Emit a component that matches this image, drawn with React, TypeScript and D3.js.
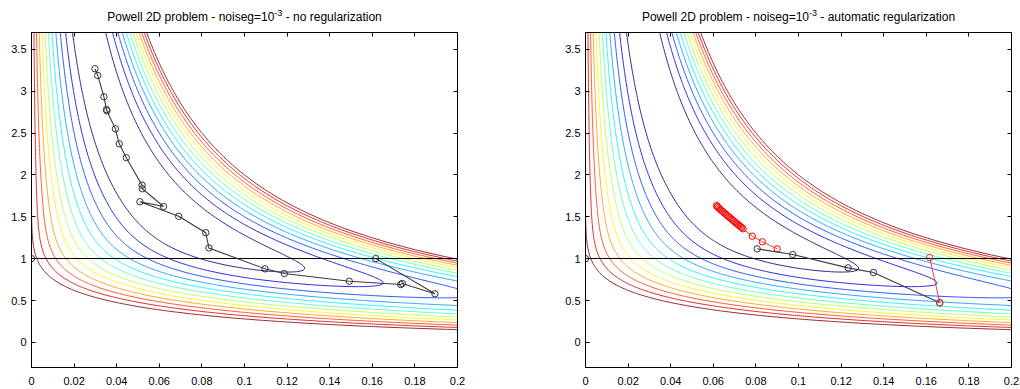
import React, { useMemo } from 'react';
import * as d3 from 'd3';

// ---------- data ----------
const X_TICKS = [0, 0.02, 0.04, 0.06, 0.08, 0.1, 0.12, 0.14, 0.16, 0.18, 0.2];
const X_TICK_LABELS = ['0', '0.02', '0.04', '0.06', '0.08', '0.1', '0.12', '0.14', '0.16', '0.18', '0.2'];
const Y_TICKS = [0, 0.5, 1, 1.5, 2, 2.5, 3, 3.5];
const Y_TICK_LABELS = ['0', '0.5', '1', '1.5', '2', '2.5', '3', '3.5'];

const CONTOUR_LEVELS = [0.0833, 0.1667, 0.25, 0.3333, 0.4167, 0.5, 0.5833, 0.6667, 0.75, 0.8333, 0.9167, 1.0];

const TITLE_LEFT = ['Powell 2D problem - noiseg=10', '-3', ' - no regularization'];
const TITLE_RIGHT = ['Powell 2D problem - noiseg=10', '-3', ' - automatic regularization'];

// left panel: first step along y = 1 (runs out of the axes), then the iterates
const LEFT_START_X = [0, 0.3];
const LEFT_START_Y = [1.0, 1.0];
const LEFT_PATH_X = [0.1616, 0.1894, 0.1741, 0.1733, 0.1492, 0.1187, 0.1096, 0.0833, 0.0818, 0.0691, 0.0509, 0.0620, 0.0520, 0.0519, 0.0445, 0.0412, 0.0394, 0.0354, 0.0352, 0.0340, 0.0311, 0.0298];
const LEFT_PATH_Y = [1.0, 0.58, 0.703, 0.691, 0.73, 0.822, 0.878, 1.127, 1.31, 1.505, 1.679, 1.622, 1.834, 1.877, 2.205, 2.371, 2.55, 2.765, 2.78, 2.932, 3.187, 3.267];

// right panel: iterates (automatic regularization)
const RIGHT_BLACK_A_X = [0, 0.3];
const RIGHT_BLACK_A_Y = [1.0, 1.0];
const RIGHT_RED_A_X = [0.1616, 0.1663];
const RIGHT_RED_A_Y = [1.013, 0.473];
const RIGHT_BLACK_B_X = [0.1663, 0.1352, 0.1233, 0.0973, 0.0806];
const RIGHT_BLACK_B_Y = [0.473, 0.834, 0.890, 1.049, 1.117];
const RIGHT_RED_B_X = [0.0900, 0.0830, 0.0783, 0.0740, 0.0733, 0.0727, 0.0720, 0.0714, 0.0707, 0.0700, 0.0693, 0.0686, 0.0679, 0.0672, 0.0665, 0.0658, 0.0651, 0.0644, 0.0637, 0.0630, 0.0624, 0.0619, 0.0615];
const RIGHT_RED_B_Y = [1.117, 1.201, 1.268, 1.356, 1.371, 1.385, 1.398, 1.412, 1.425, 1.440, 1.456, 1.470, 1.486, 1.500, 1.516, 1.531, 1.547, 1.563, 1.578, 1.594, 1.609, 1.622, 1.634];

// ---------- objective (scaled Powell-type valley, fitted to the picture) ----------
const objective = (x: number, y: number) =>
  (10 * x * y - 1) ** 2 + (0.8 * Math.exp(-1.28 * y * y) - 0.3 * x) ** 2;

const clamp = (v: number) => Math.max(0, Math.min(1, v));
const jet = (t: number) => {
  const r = clamp(1.5 - Math.abs(4 * t - 3));
  const g = clamp(1.5 - Math.abs(4 * t - 2));
  const b = clamp(1.5 - Math.abs(4 * t - 1));
  return d3.rgb(r * 255, g * 255, b * 255).formatHex();
};

const GX0 = -0.01, GX1 = 0.21, GY0 = -0.4, GY1 = 3.8, NX = 241, NY = 261;
const DXG = (GX1 - GX0) / (NX - 1);
const DYG = (GY1 - GY0) / (NY - 1);

function computeContours() {
  const values: number[] = new Array(NX * NY);
  for (let j = 0; j < NY; j++) {
    const yv = GY0 + j * DYG;
    for (let i = 0; i < NX; i++) {
      const xv = GX0 + i * DXG;
      values[j * NX + i] = objective(xv, yv);
    }
  }
  return d3.contours().size([NX, NY]).thresholds(CONTOUR_LEVELS)(values);
}

const AX_W = 426;
const AX_TOP = 32.5;
const AX_BOTTOM = 367.5;
const FONT = '"Liberation Sans", Arial, Helvetica, sans-serif';

type Series = { xs: number[]; ys: number[]; line: string; marker: string; lw: number; crisp?: boolean };

function Panel({ left, title, series, id, contours }: { left: number; title: string[]; series: Series[]; id: string; contours: any[] }) {
  const x = d3.scaleLinear().domain([0, 0.2]).range([left, left + AX_W]);
  const y = d3.scaleLinear().domain([-0.3, 3.7]).range([AX_BOTTOM, AX_TOP]);
  const right = left + AX_W;

  const contourPaths = contours.map((c: any, k: number) => {
    let d = '';
    for (const poly of c.coordinates) {
      for (const ring of poly) {
        ring.forEach((p: number[], idx: number) => {
          const px = x(GX0 + (p[0] - 0.5) * DXG);
          const py = y(GY0 + (p[1] - 0.5) * DYG);
          d += (idx === 0 ? 'M' : 'L') + px.toFixed(2) + ',' + py.toFixed(2);
        });
      }
    }
    return { d, color: jet(k / (CONTOUR_LEVELS.length - 1)) };
  });

  const lineGen = d3.line<[number, number]>().x((p) => x(p[0])).y((p) => y(p[1]));

  return (
    <g>
      <defs>
        <clipPath id={id}>
          <rect x={left} y={AX_TOP} width={AX_W} height={AX_BOTTOM - AX_TOP} />
        </clipPath>
      </defs>
      <rect x={left} y={AX_TOP} width={AX_W} height={AX_BOTTOM - AX_TOP} fill="#fff" />
      <g clipPath={`url(#${id})`}>
        {contourPaths.map((c, k) => (
          <path key={k} d={c.d} fill="none" stroke={c.color} strokeWidth={1} strokeOpacity={0.85} />
        ))}
        {series.map((s, k) => {
          const pts = s.xs.map((v, i) => [v, s.ys[i]] as [number, number]);
          return (
            <g key={k}>
              <path d={lineGen(pts) || ''} fill="none" stroke={s.line} strokeWidth={s.lw} shapeRendering={s.crisp ? 'crispEdges' : undefined} />
              {pts.map((p, i) => (
                <circle key={i} cx={x(p[0])} cy={y(p[1])} r={3.2} fill="none" stroke={s.marker} strokeWidth={1} />
              ))}
            </g>
          );
        })}
      </g>
      <rect x={left} y={AX_TOP} width={AX_W} height={AX_BOTTOM - AX_TOP} fill="none" stroke="#000" strokeWidth={1} />
      {X_TICKS.map((t, i) => {
        const px = Math.round(x(t) - 0.5) + 0.5;
        return (
          <g key={'x' + i}>
            <line x1={px} x2={px} y1={AX_BOTTOM} y2={AX_BOTTOM - 4} stroke="#000" />
            <line x1={px} x2={px} y1={AX_TOP} y2={AX_TOP + 4} stroke="#000" />
            <text x={x(t)} y={385} textAnchor="middle" fontSize={11} fontFamily={FONT} fill="#000">
              {X_TICK_LABELS[i]}
            </text>
          </g>
        );
      })}
      {Y_TICKS.map((t, i) => {
        const py = Math.round(y(t) - 0.5) + 0.5;
        return (
          <g key={'y' + i}>
            <line x1={left} x2={left + 4} y1={py} y2={py} stroke="#000" />
            <line x1={right} x2={right - 4} y1={py} y2={py} stroke="#000" />
            <text x={left - 5} y={y(t) + 4} textAnchor="end" fontSize={11} fontFamily={FONT} fill="#000">
              {Y_TICK_LABELS[i]}
            </text>
          </g>
        );
      })}
      <text x={left + AX_W / 2} y={21} textAnchor="middle" fontSize={12} fontFamily={FONT} fill="#000">
        {title[0]}
        <tspan dy={-5} fontSize={9}>{title[1]}</tspan>
        <tspan dy={5}>{title[2]}</tspan>
      </text>
    </g>
  );
}

export default function App() {
  const contours = useMemo(() => computeContours(), []);
  const leftSeries: Series[] = [
    { xs: LEFT_START_X, ys: LEFT_START_Y, line: '#000', marker: '#333', lw: 1, crisp: true },
    { xs: LEFT_PATH_X, ys: LEFT_PATH_Y, line: '#3a3a3a', marker: '#333', lw: 1.1 },
  ];
  const rightSeries: Series[] = [
    { xs: RIGHT_BLACK_A_X, ys: RIGHT_BLACK_A_Y, line: '#000', marker: '#333', lw: 1, crisp: true },
    { xs: RIGHT_BLACK_B_X, ys: RIGHT_BLACK_B_Y, line: '#3a3a3a', marker: '#333', lw: 1.1 },
    { xs: RIGHT_RED_A_X, ys: RIGHT_RED_A_Y, line: '#f04040', marker: '#f02020', lw: 1 },
    { xs: RIGHT_RED_B_X, ys: RIGHT_RED_B_Y, line: '#f04040', marker: '#ff0000', lw: 1 },
  ];
  return (
    <svg width={1020} height={389} style={{ position: 'absolute', left: 0, top: 0, background: '#fff' }}>
      <rect x={0} y={0} width={1020} height={389} fill="#fff" />
      <Panel left={31.5} title={TITLE_LEFT} series={leftSeries} id="clipL" contours={contours} />
      <Panel left={585.5} title={TITLE_RIGHT} series={rightSeries} id="clipR" contours={contours} />
    </svg>
  );
}
